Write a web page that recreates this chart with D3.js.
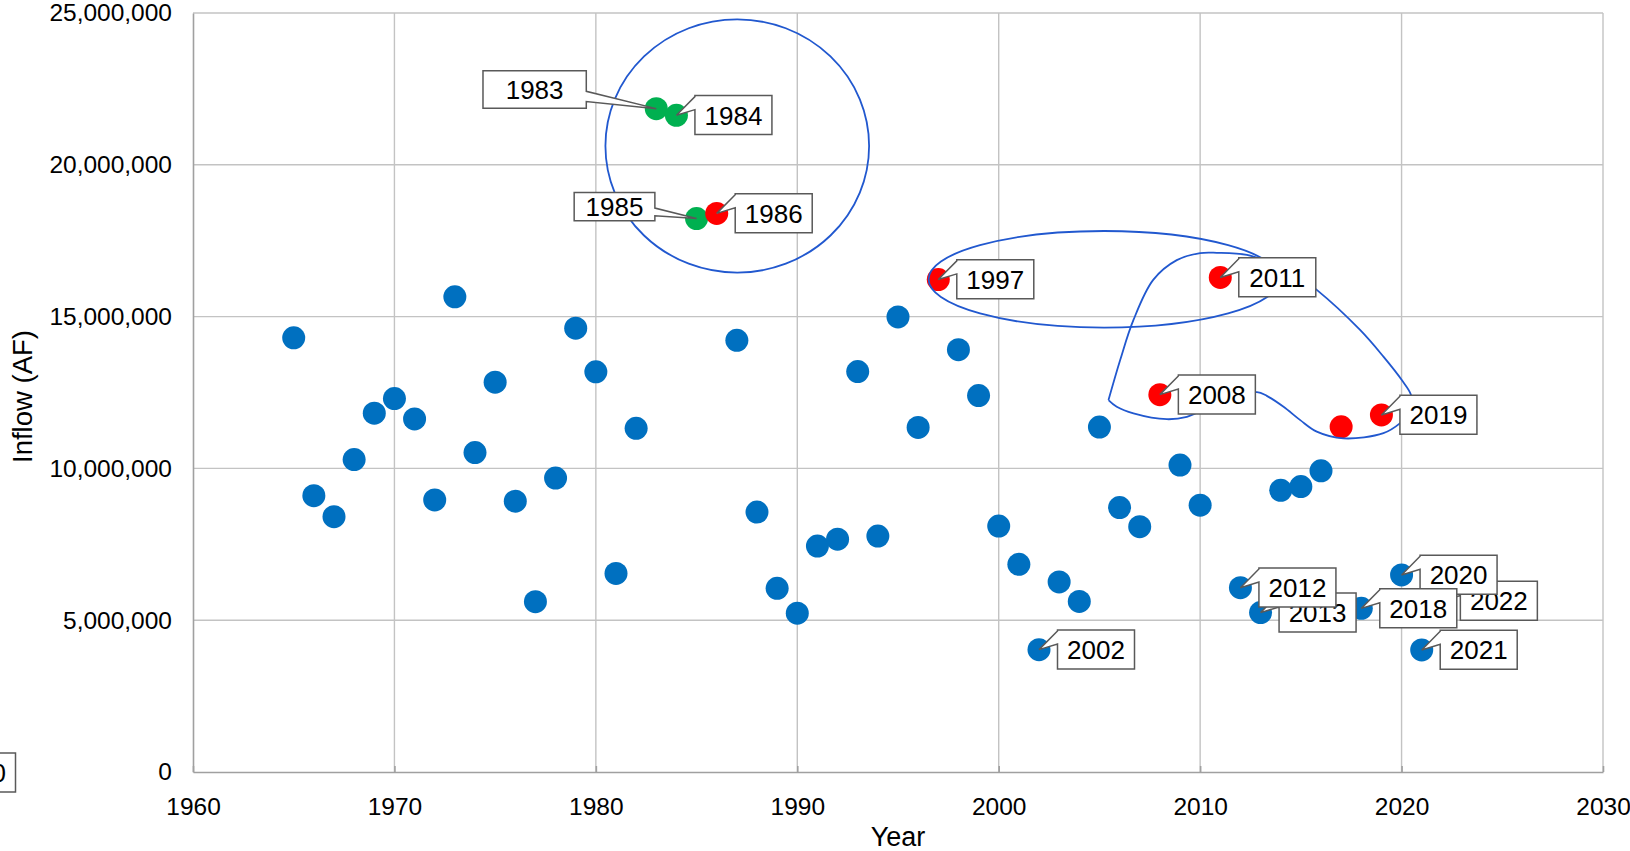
<!DOCTYPE html>
<html>
<head>
<meta charset="utf-8">
<script src="https://cdn.jsdelivr.net/npm/d3@7/dist/d3.min.js"></script>
<style>
  html, body { margin: 0; padding: 0; background: #ffffff; }
  svg { display: block; font-family: "Liberation Sans", Arial, sans-serif; }
</style>
</head>
<body>
<svg id="chart" width="1630" height="851"></svg>
<script>
// ---------------- DATA ----------------
const years = [1965,1966,1967,1968,1969,1970,1971,1972,1973,1974,1975,1976,1977,1978,1979,
  1980,1981,1982,1983,1984,1985,1986,1987,1988,1989,1990,1991,1992,1993,1994,1995,1996,1997,
  1998,1999,2000,2001,2002,2003,2004,2005,2006,2007,2008,2009,2010,2011,2012,2013,2014,2015,
  2016,2017,2018,2019,2020,2021,2022];
const inflow = [14300000,9100000,8410000,10290000,11820000,12300000,11630000,8960000,15650000,
  10520000,12840000,8920000,5610000,9680000,14620000,13180000,6540000,11320000,21850000,
  21630000,18230000,18400000,14220000,8560000,6050000,5230000,7440000,7670000,13190000,
  7770000,14990000,11350000,16220000,13910000,12400000,8100000,6840000,4030000,6260000,
  5620000,11360000,8710000,8080000,12430000,10110000,8790000,16290000,6070000,5250000,
  9280000,9400000,9920000,11370000,5390000,11760000,6490000,4020000,5630000];
const greenYears = [1983,1984,1985];
const redYears = [1986,1997,2008,2011,2017,2019];
const labeledYears = [1983,1984,1985,1986,1997,2002,2008,2011,2013,2012,2022,2020,2018,2019,2021];
const xTicks = [1960,1970,1980,1990,2000,2010,2020,2030];
const yTicks = [0,5000000,10000000,15000000,20000000,25000000];
const xTitle = "Year";
const yTitle = "Inflow (AF)";

// annotation shapes, in data units (year, AF)
const ellipseCenters = [[1987.02, 20620000],[2005.23, 16230000]];
const ellipseRadii = [[6.545, 4170000],[8.71, 1590000]];
const freeformYears = [2005.45,2006.03,2006.69,2007.67,2008.84,2010.0,2010.83,2012.32,2013.73,
  2014.97,2015.79,2017.94,2019.10,2020.01,2020.47,2020.52,2019.93,2019.10,2017.11,2015.79,
  2014.97,2014.14,2013.31,2012.82,2011.24,2009.34,2008.35,2006.69,2005.86,2005.45];
const freeformValues = [12250000,13570000,14890000,16210000,16860000,17090000,17100000,17030000,
  16700000,16270000,15880000,14560000,13680000,12910000,12420000,11920000,11490000,11160000,
  10990000,11210000,11590000,12030000,12390000,12510000,12260000,11700000,11620000,11810000,
  12030000,12250000];

// ---------------- LAYOUT ----------------
const margin = {left: 193, top: 13, right: 27, bottom: 79};
const W = 1630, H = 851;
const pw = W - margin.left - margin.right;   // 1410
const ph = H - margin.top - margin.bottom;   // 759
const FONT = "Liberation Sans, Arial, sans-serif";

const svg = d3.select("#chart");
svg.append("rect").attr("width", W).attr("height", H).attr("fill", "#fff");
const g = svg.append("g").attr("transform", `translate(${margin.left},${margin.top})`);

const x = d3.scaleLinear().domain([1960, 2030]).range([0, pw]);
const y = d3.scaleLinear().domain([0, 25000000]).range([ph, 0]);

// gridlines
g.append("g").selectAll("line").data(yTicks.filter(t => t > 0)).join("line")
  .attr("x1", 0).attr("x2", pw).attr("y1", d => y(d)).attr("y2", d => y(d))
  .attr("stroke", "#c3c3c3").attr("stroke-width", 1.4);
g.append("g").selectAll("line").data(xTicks.filter(t => t > 1960)).join("line")
  .attr("y1", 0).attr("y2", ph).attr("x1", d => x(d)).attr("x2", d => x(d))
  .attr("stroke", "#c3c3c3").attr("stroke-width", 1.4);

// axes
const xAxis = d3.axisBottom(x).tickValues(xTicks).tickFormat(d3.format("d")).tickSizeInner(-6).tickSizeOuter(0).tickPadding(26);
const gx = g.append("g").attr("transform", `translate(0,${ph})`).call(xAxis);
gx.select(".domain").attr("stroke", "#a0a0a0").attr("stroke-width", 1.6);
gx.selectAll(".tick line").attr("stroke", "#a0a0a0").attr("stroke-width", 1.6);
gx.selectAll("text").attr("font-size", 24.5).attr("fill", "#000").attr("font-family", FONT);

const yAxis = d3.axisLeft(y).tickValues(yTicks).tickFormat(d3.format(",")).tickSize(0).tickPadding(21);
const gy = g.append("g").call(yAxis);
gy.select(".domain").attr("stroke", "#a0a0a0").attr("stroke-width", 1.6);
gy.selectAll("text").attr("font-size", 24.5).attr("fill", "#000").attr("font-family", FONT);

// axis titles
svg.append("text").attr("x", margin.left + pw / 2).attr("y", 846)
  .attr("text-anchor", "middle").attr("font-size", 27).attr("fill", "#000").text(xTitle);
svg.append("text").attr("transform", `translate(32,${margin.top + ph / 2 + 4}) rotate(-90)`)
  .attr("text-anchor", "middle").attr("font-size", 27.5).attr("fill", "#000").text(yTitle);

// points
const pts = years.map((yr, i) => ({year: yr, value: inflow[i]}));
const colorOf = yr => greenYears.includes(yr) ? "#00b050" : (redYears.includes(yr) ? "#ff0000" : "#0070c0");
g.append("g").selectAll("circle").data(pts).join("circle")
  .attr("cx", d => x(d.year)).attr("cy", d => y(d.value)).attr("r", 11.5)
  .attr("fill", d => colorOf(d.year));

// annotation shapes
const annot = g.append("g").attr("fill", "none").attr("stroke", "#2158cf").attr("stroke-width", 1.8);
ellipseCenters.forEach((c, i) => {
  annot.append("ellipse")
    .attr("cx", x(c[0])).attr("cy", y(c[1]))
    .attr("rx", x(c[0] + ellipseRadii[i][0]) - x(c[0]))
    .attr("ry", y(c[1] - ellipseRadii[i][1]) - y(c[1]));
});
const ff = freeformYears.map((yr, i) => [x(yr), y(freeformValues[i])]);
annot.append("path").attr("d", d3.line().curve(d3.curveCatmullRom.alpha(0.5))(ff));

// data labels (callouts)
const std = {dx: 18.5, dy: -19.7, w: 77, h: 39, side: "right"};
const labelLayout = {
  1983: {dx: -173.3, dy: -38, w: 103.3, h: 37.6, side: "left"},
  1985: {dx: -122.4, dy: -26, w: 80.7, h: 28.3, side: "left"}
};
const lab = g.append("g");
labeledYears.forEach(yr => {
  const i = years.indexOf(yr);
  const px = x(yr), py = y(inflow[i]);
  const L = labelLayout[yr] || std;
  const x0 = px + L.dx, y0 = py + L.dy, x1 = x0 + L.w, y1 = y0 + L.h;
  let d;
  if (L.side === "right") {
    d = `M${x0},${y0} L${x1},${y0} L${x1},${y1} L${x0},${y1} L${x0},${y0 + L.h * 0.36} L${px},${py} L${x0},${y0 + 1} Z`;
  } else {
    d = `M${x0},${y0} L${x1},${y0} L${x1},${y0 + L.h * 0.55} L${px},${py} L${x1},${y0 + L.h * 0.82} L${x1},${y1} L${x0},${y1} Z`;
  }
  lab.append("path").attr("d", d).attr("fill", "#fff").attr("stroke", "#595959").attr("stroke-width", 1.5).attr("stroke-linejoin", "miter");
  lab.append("text").attr("x", (x0 + x1) / 2).attr("y", (y0 + y1) / 2 + 9.5)
    .attr("text-anchor", "middle").attr("font-size", 26).attr("fill", "#000").text(String(yr));
});

// stray label box clipped at the left edge
svg.append("rect").attr("x", -62).attr("y", 753).attr("width", 77.5).attr("height", 39)
  .attr("fill", "#fff").attr("stroke", "#595959").attr("stroke-width", 1.5);
svg.append("text").attr("x", 6).attr("y", 782).attr("text-anchor", "end")
  .attr("font-size", 26).attr("fill", "#000").text("0");
</script>
</body>
</html>
